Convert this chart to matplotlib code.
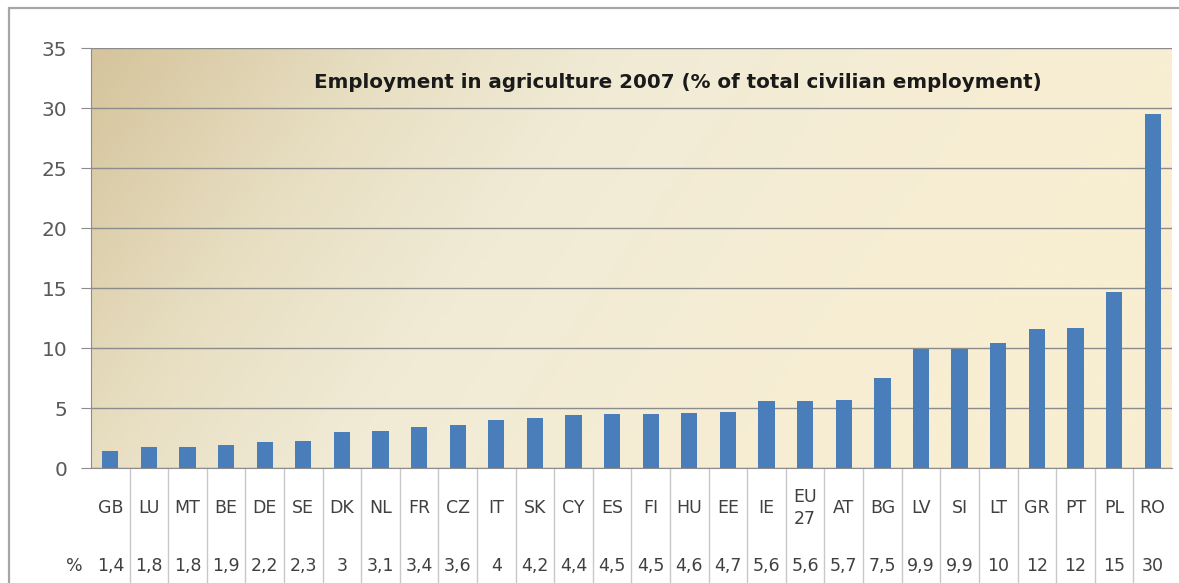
import numpy as np
import matplotlib.pyplot as plt
from matplotlib.colors import LinearSegmentedColormap
from matplotlib.patches import Rectangle

plt.rcParams['font.family'] = ['DejaVu Sans']

# Data
countries = ['GB', 'LU', 'MT', 'BE', 'DE', 'SE', 'DK', 'NL', 'FR', 'CZ', 'IT',
             'SK', 'CY', 'ES', 'FI', 'HU', 'EE', 'IE', 'EU\n27', 'AT', 'BG',
             'LV', 'SI', 'LT', 'GR', 'PT', 'PL', 'RO']
values = [1.4, 1.8, 1.8, 1.9, 2.2, 2.3, 3.0, 3.1, 3.4, 3.6, 4.0,
          4.2, 4.4, 4.5, 4.5, 4.6, 4.7, 5.6, 5.6, 5.7, 7.5,
          9.9, 9.9, 10.4, 11.6, 11.7, 14.7, 29.5]
table_labels = ['1,4', '1,8', '1,8', '1,9', '2,2', '2,3', '3', '3,1', '3,4',
                '3,6', '4', '4,2', '4,4', '4,5', '4,5', '4,6', '4,7', '5,6',
                '5,6', '5,7', '7,5', '9,9', '9,9', '10', '12', '12', '15', '30']
y_ticks = [0, 5, 10, 15, 20, 25, 30, 35]
title = 'Employment in agriculture 2007 (% of total civilian employment)'

x = np.arange(len(countries))

fig = plt.figure(figsize=(11.79, 5.83), dpi=100)
ax = fig.add_axes([0.0772, 0.197, 0.9168, 0.7205])

# Outer chart frame (only left and top edges are visible)
fig.patches.append(Rectangle((0.0076, -0.05), 1.1, 1.037, transform=fig.transFigure,
                             fill=False, edgecolor='#a6a6a6', linewidth=1.6))

# Gradient background of the plot area
nx, ny = 300, 150
gx, gy = np.meshgrid(np.linspace(0, 1, nx), np.linspace(1, 0, ny))
t = np.clip((gx * 2.2 + 0.6 * (1 - gy)) / 2.2, 0, 1)
cmap = LinearSegmentedColormap.from_list(
    'bg', [(0, '#d5c49c'), (0.28, '#e8dfc3'), (0.5, '#f1ebd6'), (1, '#f8eed2')])
ax.imshow(t, cmap=cmap, extent=[0, 1, 0, 1], transform=ax.transAxes,
          aspect='auto', zorder=0, interpolation='bilinear')

# Bars
ax.bar(x, values, width=0.42, color='#4a7ebb', zorder=3)

ax.set_xlim(-0.5, len(countries) - 0.5)
ax.set_ylim(0, 35)
ax.set_yticks(y_ticks)
ax.set_yticklabels([str(v) for v in y_ticks], fontsize=14.5, color='#595959')
ax.tick_params(axis='y', length=7, color='#8c8c8c', pad=10)
ax.set_xticks([])
ax.grid(axis='y', color='#8c8c8c', linewidth=1.0, zorder=1)
ax.set_axisbelow(True)
for s in ['top', 'right']:
    ax.spines[s].set_visible(False)
ax.spines['left'].set_color('#8c8c8c')
ax.spines['bottom'].set_color('#8c8c8c')

ax.text(0.543, 0.917, title, transform=ax.transAxes, ha='center', va='center',
        fontsize=14.3, fontweight='bold', color='#1a1a1a', zorder=5)

# Data table below the axis
trans = ax.get_xaxis_transform()
for i, (c, v) in enumerate(zip(countries, table_labels)):
    ax.text(i, -0.095, c, transform=trans, ha='center', va='center',
            fontsize=12.5, color='#404040', linespacing=1.3, clip_on=False)
    ax.text(i, -0.233, v, transform=trans, ha='center', va='center',
            fontsize=12.5, color='#404040', clip_on=False)
ax.text(-0.92, -0.233, '%', transform=trans, ha='center', va='center',
        fontsize=12.5, color='#404040', clip_on=False)
for i in range(len(countries) - 1):
    ax.plot([i + 0.5, i + 0.5], [0, -0.3], transform=trans, color='#c8c8c8',
            linewidth=1.0, clip_on=False)

plt.savefig('out.png', dpi=100)
